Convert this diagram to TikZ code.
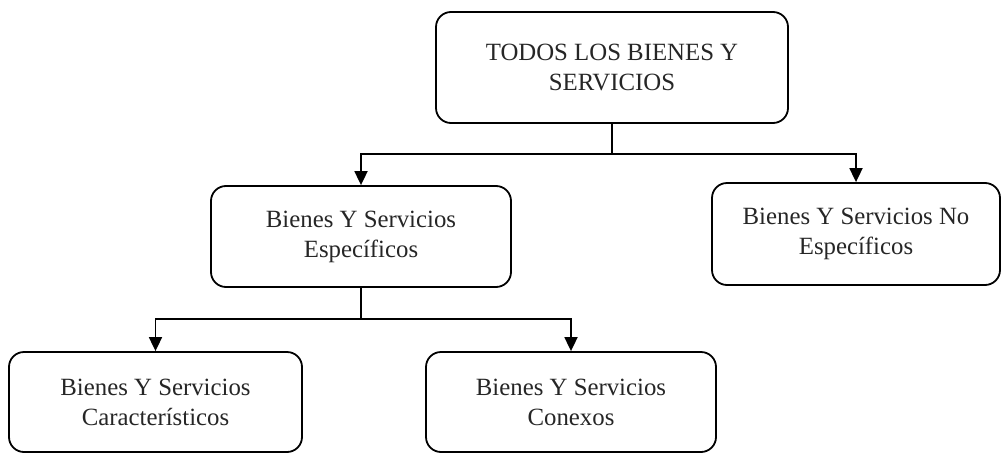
\documentclass[tikz,border=0pt]{standalone}
\usepackage{fontspec}
\setmainfont{Liberation Serif}
\usetikzlibrary{arrows.meta}
\tikzset{
  box/.style={draw=black, line width=1.8pt, rounded corners=15pt, align=center,
    inner sep=0pt, font=\fontsize{24.8}{30}\selectfont, text=black!85},
  conn/.style={draw=black, line width=1.8pt},
  arr/.style={conn, -{Triangle[length=14pt,width=13pt]}}
}
\begin{document}
\begin{tikzpicture}[x=1pt,y=-1pt]
\useasboundingbox (0,0) rectangle (1001,455);
\node[box, minimum width=352pt, minimum height=111pt] (top) at (612,67.5) {TODOS LOS BIENES Y\\SERVICIOS};
\node[box, minimum width=300pt, minimum height=101pt] (midL) at (361,236.5) {Bienes Y Servicios\\Específicos};
\node[box, minimum width=288pt, minimum height=102pt] (midR) at (856,234) {Bienes Y Servicios No\\Específicos};
\node[box, minimum width=293pt, minimum height=100pt] (botL) at (155.5,402) {Bienes Y Servicios\\Característicos};
\node[box, minimum width=290pt, minimum height=100pt] (botM) at (571,402) {Bienes Y Servicios\\Conexos};
\draw[conn] (top.south) -- ++(0,30) coordinate (j1);
\draw[arr] (j1) -| (midL.north);
\draw[arr] (j1) -| (midR.north);
\draw[conn] (midL.south) -- ++(0,31) coordinate (j2);
\draw[arr] (j2) -| (botL.north);
\draw[arr] (j2) -| (botM.north);
\end{tikzpicture}
\end{document}
